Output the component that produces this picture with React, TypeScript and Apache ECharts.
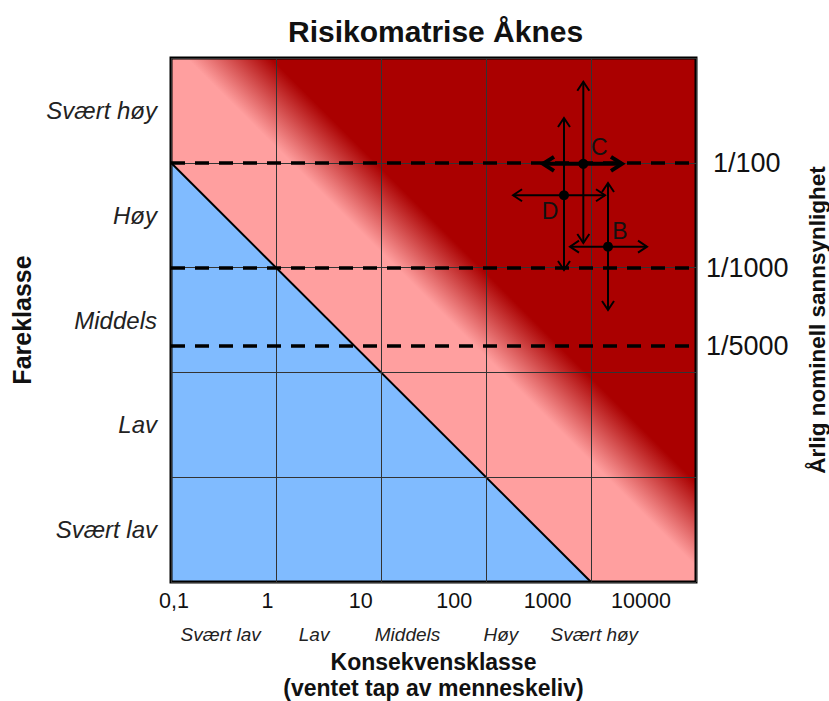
import React, { useEffect, useRef } from "react";
import * as echarts from "echarts";

const FONT = "'Liberation Sans', Arial, Helvetica, sans-serif";

// ---- data ----
const titleText = "Risikomatrise Åknes";
const xTickValues = [0.1, 1, 10, 100, 1000, 10000];
const xTickLabels = ["0,1", "1", "10", "100", "1000", "10000"];
const consequenceClasses = ["Svært lav", "Lav", "Middels", "Høy", "Svært høy"];
const hazardClasses = ["Svært lav", "Lav", "Middels", "Høy", "Svært høy"];
// acceptable (blue) zone, in [consequence, hazard-class level]
const acceptableZone = [
  [0.1, 4],
  [0.1, 0],
  [1000, 0],
];
const probLineNames = ["1/100", "1/1000", "1/5000"];
const probLineLevels = [4, 3, 2.25];

const scenarioNames = ["C", "D", "B"];
const scenarioX = [845, 553, 1452];
const scenarioXLow = [349, 181, 631];
const scenarioXHigh = [1972, 1360, 3415];
const scenarioY = [3.99, 3.69, 3.2];
const scenarioYLow = [3.235, 2.977, 2.595];
const scenarioYHigh = [4.774, 4.427, 3.807];

// ---- styles ----
const PINK = "#FF9F9F";
const RED = "#AA0000";
const BLUE = "#80BBFF";
const labelOffsets: Record<string, [number, number]> = {
  C: [16, -17],
  D: [-14, 16],
  B: [12, -16],
};
const boldHorizontal: Record<string, boolean> = { C: true };
const probLabelDistance = [17, 10, 10];

if (typeof document !== "undefined") {
  document.body.style.margin = "0";
  document.body.style.overflow = "hidden";
}

function arrowHead(tip: number[], dir: "l" | "r" | "u" | "d", len: number, half: number) {
  const [x, y] = tip;
  if (dir === "r") return [[x - len, y - half], [x, y], [x - len, y + half]];
  if (dir === "l") return [[x + len, y - half], [x, y], [x + len, y + half]];
  if (dir === "u") return [[x - half, y + len], [x, y], [x + half, y + len]];
  return [[x - half, y - len], [x, y], [x + half, y - len]];
}

export default function App() {
  const ref = useRef<HTMLDivElement>(null);

  useEffect(() => {
    if (!ref.current) return;
    const chart = echarts.init(ref.current, undefined, { renderer: "svg" });

    const bgRender = (params: any, api: any) => {
      const tl = api.coord([api.value(0), api.value(3)]);
      const br = api.coord([api.value(2), api.value(1)]);
      const zonePts = acceptableZone.map((p) => api.coord(p));
      return {
        type: "group",
        children: [
          {
            type: "rect",
            shape: { x: tl[0], y: tl[1], width: br[0] - tl[0], height: br[1] - tl[1] },
            style: {
              fill: new echarts.graphic.LinearGradient(0, 1, 1, 0, [
                { offset: 0, color: PINK },
                { offset: 0.515, color: PINK },
                { offset: 0.595, color: RED },
                { offset: 1, color: RED },
              ]),
            },
          },
          { type: "polygon", shape: { points: zonePts }, style: { fill: BLUE } },
          {
            type: "line",
            shape: { x1: zonePts[0][0], y1: zonePts[0][1], x2: zonePts[2][0], y2: zonePts[2][1] },
            style: { stroke: "#000", lineWidth: 2 },
          },
        ],
      };
    };

    const scenRender = (params: any, api: any) => {
      const name = scenarioNames[params.dataIndex];
      const x = api.value(0), y = api.value(1);
      const c = api.coord([x, y]);
      const l = api.coord([api.value(2), y]);
      const r = api.coord([api.value(3), y]);
      const b = api.coord([x, api.value(4)]);
      const t = api.coord([x, api.value(5)]);
      const bold = !!boldHorizontal[name];
      const hw = bold ? 4 : 2;
      const hl = bold ? 11 : 9;
      const hh = bold ? 7 : 6;
      const off = labelOffsets[name] || [12, -12];
      const st = { stroke: "#000", lineWidth: 2, fill: null };
      const sth = { stroke: "#000", lineWidth: hw, fill: null, lineJoin: "miter" };
      return {
        type: "group",
        children: [
          { type: "line", shape: { x1: l[0], y1: l[1], x2: r[0], y2: r[1] }, style: sth },
          { type: "polyline", shape: { points: arrowHead(l, "l", hl, hh) }, style: sth },
          { type: "polyline", shape: { points: arrowHead(r, "r", hl, hh) }, style: sth },
          { type: "line", shape: { x1: t[0], y1: t[1], x2: b[0], y2: b[1] }, style: st },
          { type: "polyline", shape: { points: arrowHead(t, "u", 9, 6) }, style: st },
          { type: "polyline", shape: { points: arrowHead(b, "d", 9, 6) }, style: st },
          { type: "circle", shape: { cx: c[0], cy: c[1], r: 5 }, style: { fill: "#000" } },
          {
            type: "text",
            x: c[0] + off[0],
            y: c[1] + off[1],
            style: {
              text: name,
              fontSize: 23,
              fontFamily: FONT,
              fill: "#111",
              align: "center",
              verticalAlign: "middle",
            },
          },
        ],
      };
    };

    const option: any = {
      animation: false,
      title: {
        text: titleText,
        left: 283,
        top: 11,
        textStyle: { fontSize: 30, fontWeight: "bold", color: "#111", fontFamily: FONT },
      },
      grid: [
        {
          left: 171,
          top: 58,
          width: 525,
          height: 524,
          show: true,
          borderColor: "#000",
          borderWidth: 3,
          outerBoundsMode: "none",
          containLabel: false,
        },
        { left: 174, top: 581, width: 467, height: 1, outerBoundsMode: "none", containLabel: false },
      ],
      xAxis: [
        {
          type: "log",
          logBase: 10,
          gridIndex: 0,
          min: xTickValues[0],
          max: xTickValues[xTickValues.length - 1],
          axisLabel: { show: false },
          axisTick: { show: false },
          axisLine: { show: false },
          splitLine: { show: true, lineStyle: { color: "#333", width: 1 } },
          minorSplitLine: { show: false },
          name: "Konsekvensklasse\n(ventet tap av menneskeliv)",
          nameLocation: "middle",
          nameGap: 67,
          nameTextStyle: { fontSize: 23, fontWeight: "bold", lineHeight: 26, color: "#111", fontFamily: FONT },
        },
        {
          type: "category",
          gridIndex: 1,
          position: "bottom",
          data: xTickLabels,
          boundaryGap: false,
          axisLine: { show: false },
          axisTick: { show: false },
          splitLine: { show: false },
          axisLabel: { fontSize: 21.5, margin: 8, interval: 0, color: "#111", fontFamily: FONT },
        },
        {
          type: "category",
          gridIndex: 1,
          position: "bottom",
          data: consequenceClasses,
          boundaryGap: true,
          axisLine: { show: false },
          axisTick: { show: false },
          splitLine: { show: false },
          axisLabel: { fontSize: 19, fontStyle: "italic", margin: 43, interval: 0, color: "#222", fontFamily: FONT },
        },
      ],
      yAxis: [
        {
          type: "value",
          gridIndex: 0,
          position: "right",
          min: 0,
          max: hazardClasses.length,
          interval: 1,
          axisLabel: { show: false },
          axisTick: { show: false },
          axisLine: { show: false },
          splitLine: { show: true, lineStyle: { color: "#333", width: 1 } },
          name: "Årlig nominell sannsynlighet",
          nameLocation: "middle",
          nameRotate: 90,
          nameGap: 110,
          nameTextStyle: { fontSize: 22.5, fontWeight: "bold", color: "#111", fontFamily: FONT },
        },
        {
          type: "category",
          gridIndex: 0,
          position: "left",
          data: hazardClasses,
          boundaryGap: true,
          axisLine: { show: false },
          axisTick: { show: false },
          splitLine: { show: false },
          axisLabel: { fontSize: 24, fontStyle: "italic", margin: 14, interval: 0, color: "#222", fontFamily: FONT },
          name: "Fareklasse",
          nameLocation: "middle",
          nameRotate: 90,
          nameGap: 137,
          nameTextStyle: { fontSize: 25, fontWeight: "bold", color: "#111", fontFamily: FONT },
        },
        { type: "value", gridIndex: 1, show: false },
      ],
      series: [
        {
          type: "custom",
          name: "zones",
          xAxisIndex: 0,
          yAxisIndex: 0,
          z: -1,
          silent: true,
          clip: false,
          data: [[xTickValues[0], 0, xTickValues[xTickValues.length - 1], hazardClasses.length]],
          renderItem: bgRender,
        },
        {
          type: "line",
          name: "probLines",
          xAxisIndex: 0,
          yAxisIndex: 0,
          data: [],
          z: 3,
          markLine: {
            silent: true,
            symbol: ["none", "none"],
            lineStyle: { color: "#000", width: 3.5, type: [14, 10] },
            label: {
              show: true,
              position: "end",
              formatter: "{b}",
              fontSize: 27,
              color: "#111",
              fontFamily: FONT,
              distance: 10,
            },
            data: probLineLevels.map((v, i) => ({
              yAxis: v,
              name: probLineNames[i],
              label: { distance: probLabelDistance[i] },
            })),
          },
        },
        {
          type: "custom",
          name: "scenarios",
          xAxisIndex: 0,
          yAxisIndex: 0,
          z: 5,
          silent: true,
          clip: false,
          data: scenarioNames.map((n, i) => [
            scenarioX[i],
            scenarioY[i],
            scenarioXLow[i],
            scenarioXHigh[i],
            scenarioYLow[i],
            scenarioYHigh[i],
          ]),
          renderItem: scenRender,
        },
      ],
    };

    chart.setOption(option);
    return () => chart.dispose();
  }, []);

  return <div ref={ref} style={{ width: 829, height: 701 }} />;
}
